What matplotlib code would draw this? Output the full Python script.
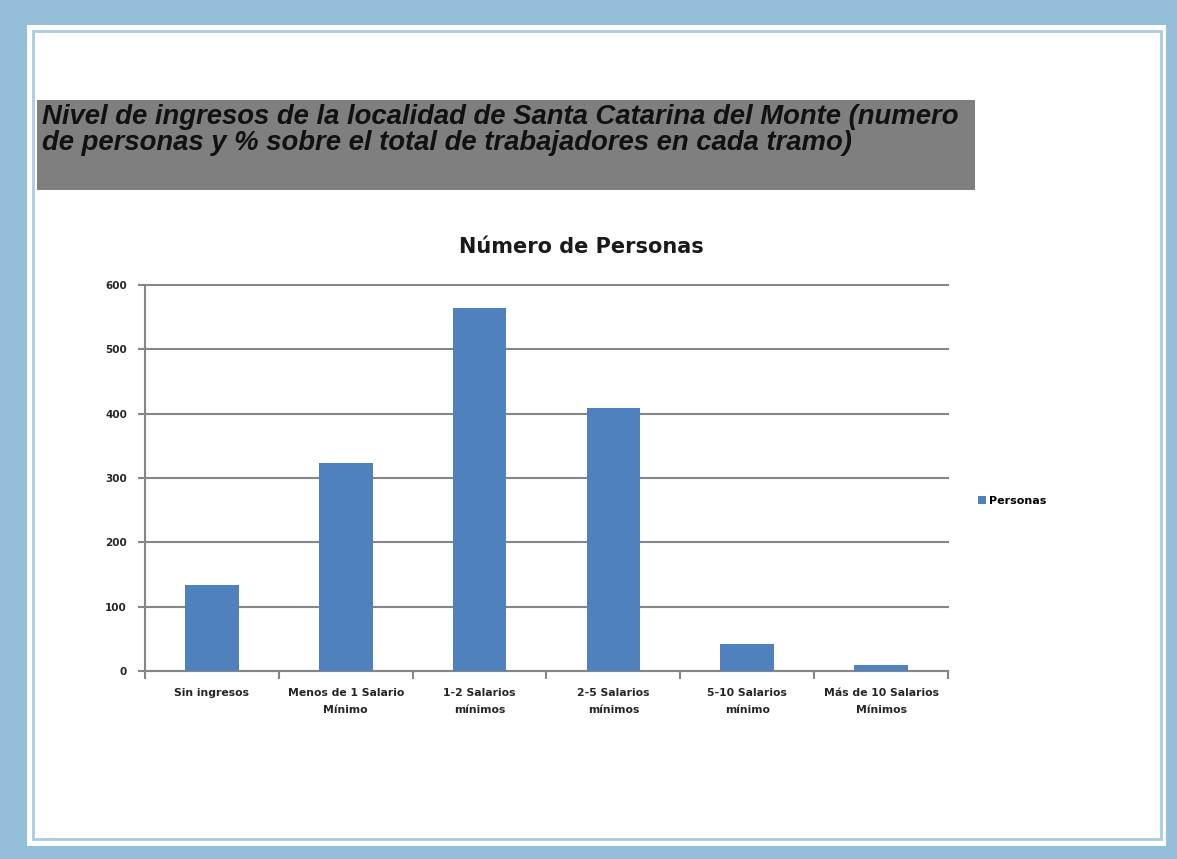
import numpy as np
import matplotlib.pyplot as plt
from matplotlib.patches import Rectangle

# data
categories = ['Sin ingresos', 'Menos de 1 Salario\nMínimo', '1-2 Salarios\nmínimos',
              '2-5 Salarios\nmínimos', '5-10 Salarios\nmínimo', 'Más de 10 Salarios\nMínimos']
personas = [134, 323, 565, 409, 42, 9]
y_ticks = [0, 100, 200, 300, 400, 500, 600]

W, H = 1177, 859
BAR_COLOR = '#4f81bd'
GRID_COLOR = '#868686'

fig = plt.figure(figsize=(W / 100, H / 100), dpi=100)
fig.patch.set_facecolor('#93bfd8')

def px_rect(x0, y0, x1, y1, **kw):
    # rectangle given in pixel coords (top-left origin)
    return Rectangle((x0 / W, 1 - y1 / H), (x1 - x0) / W, (y1 - y0) / H,
                     transform=fig.transFigure, **kw)

# white slide panel with inner border
fig.patches.append(px_rect(27, 25, 1166, 846, facecolor='white', edgecolor='none', zorder=-2))
fig.patches.append(px_rect(33, 31, 1161, 839, facecolor='none', edgecolor='#a9cde0', lw=2, zorder=-1))

# grey heading box
fig.patches.append(px_rect(37, 100, 975, 190, facecolor='#7f7f7f', edgecolor='none', zorder=-1))
heading = ('Nivel de ingresos de la localidad de Santa Catarina del Monte (numero\n'
           'de personas y % sobre el total de trabajadores en cada tramo)')
fig.text(42 / W, 1 - 104 / H, heading, ha='left', va='top', fontsize=19.8,
         fontweight='bold', fontstyle='italic', color='#111111', linespacing=1.0,
         family=['Liberation Sans', 'DejaVu Sans'], zorder=2)

# chart
ax = fig.add_axes([145 / W, 1 - 671 / H, (948 - 145) / W, (671 - 285) / H], zorder=5)
ax.set_facecolor('none')
x = np.arange(len(categories))
ax.bar(x, personas, width=0.4, color=BAR_COLOR, label='Personas', zorder=3)

ax.set_xlim(-0.5, len(categories) - 0.5)
ax.set_ylim(0, 600)
ax.set_yticks(y_ticks)
ax.set_yticklabels([str(v) for v in y_ticks], fontsize=7.5, fontweight='bold', color='#262626')
ax.set_xticks(x)
ax.set_xticklabels(categories, fontsize=7.8, fontweight='bold', linespacing=1.9, color='#262626')
ax.tick_params(axis='x', length=0, pad=12)
ax.tick_params(axis='y', length=5, color=GRID_COLOR, width=1.5, pad=8)
# category boundary tick marks
ax.set_xticks(np.arange(-0.5, len(categories)), minor=True)
ax.tick_params(axis='x', which='minor', length=6, color=GRID_COLOR, width=1.5)

ax.grid(axis='y', color=GRID_COLOR, lw=1.5, zorder=0)
for gl in ax.get_ygridlines():
    gl.set_clip_on(False)
ax.set_axisbelow(True)
for side in ['top', 'right']:
    ax.spines[side].set_visible(False)
for side in ['left', 'bottom']:
    ax.spines[side].set_color(GRID_COLOR)
    ax.spines[side].set_linewidth(1.5)

fig.text(581 / W, 1 - 247 / H, 'Número de Personas', ha='center', va='center',
         fontsize=15, fontweight='bold', color='#1a1a1a')

ax.legend(loc='center left', bbox_to_anchor=(1.025, 0.44), frameon=False,
          prop={'size': 8, 'weight': 'bold'}, handlelength=0.7, handleheight=0.7,
          handletextpad=0.3)

fig.savefig('out.png', dpi=100, facecolor=fig.get_facecolor())
